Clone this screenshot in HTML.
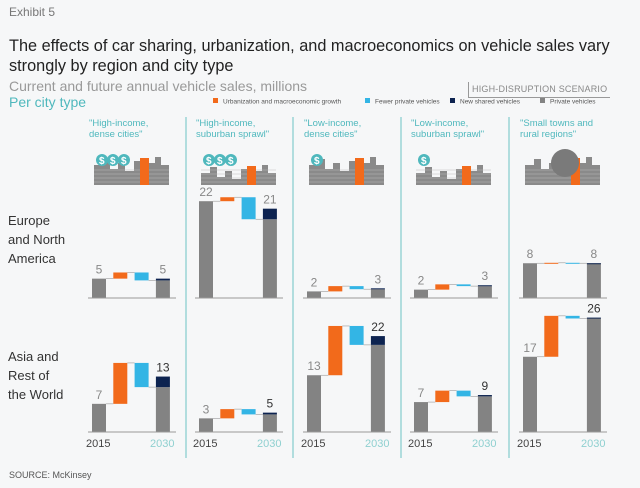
<!DOCTYPE html>
<html><head><meta charset="utf-8"><style>
body{margin:0;width:640px;height:488px;background:#f6f7f8;font-family:"Liberation Sans",sans-serif;overflow:hidden;position:relative}
.t{position:absolute;white-space:nowrap}
</style></head><body>
<div class="t" style="left:9px;top:5px;font-size:12px;color:#777">Exhibit 5</div>
<div class="t" style="left:9px;top:36px;font-size:16.3px;color:#222;line-height:20px">The effects of car sharing, urbanization, and macroeconomics on vehicle sales vary<br>strongly by region and city type</div>
<div class="t" style="left:9px;top:78px;font-size:14px;color:#999">Current and future annual vehicle sales, millions</div>
<div class="t" style="left:9px;top:94px;font-size:14px;color:#4fb8bd">Per city type</div>
<div class="t" style="left:468px;top:82px;font-size:9px;color:#888;border-left:1px solid #999;border-bottom:1px solid #999;padding:2px 3px 3px 3px;letter-spacing:0.2px">HIGH-DISRUPTION SCENARIO</div>
<div class="t" style="left:8px;top:211px;font-size:13px;line-height:19px;color:#333">Europe<br>and North<br>America</div>
<div class="t" style="left:8px;top:347px;font-size:13px;line-height:19px;color:#333">Asia and<br>Rest of<br>the World</div>
<div class="t" style="left:9px;top:470px;font-size:9px;color:#555">SOURCE: McKinsey</div>
<svg id="c" width="640" height="488" style="position:absolute;left:0;top:0"></svg>
<script>
const cityTypes=['"High-income,|dense cities"','"High-income,|suburban sprawl"','"Low-income,|dense cities"','"Low-income,|suburban sprawl"','"Small towns and|rural regions"'];
const euStart=[4.4,22,1.5,1.9,7.9];
const euUrban=[1.4,0.9,1.2,1.2,0.1];
const euFewer=[1.8,5,0.7,0.4,0.1];
const euShared=[0.4,2.4,0.2,0.2,0];
const euStartLabel=[5,22,2,2,8];
const euEndLabel=[5,21,3,3,8];
const asStart=[6.4,3.1,12.9,6.8,17.1];
const asUrban=[9.3,2.1,11.2,2.6,9.3];
const asFewer=[5.5,1.2,4.3,1.3,0.6];
const asShared=[2.4,0.4,2.0,0.3,0.2];
const asStartLabel=[7,3,13,7,17];
const asEndLabel=[13,5,22,9,26];
const legendItems=['Urbanization and macroeconomic growth','Fewer private vehicles','New shared vehicles','Private vehicles'];

const C={o:'#f26a1b',b:'#33b5e5',n:'#0d2350',g:'#838383',teal:'#4fb8bd'};
const svg=document.getElementById('c');const NS='http://www.w3.org/2000/svg';
function mk(tag,a,parent){const e=document.createElementNS(NS,tag);for(const k in a)e.setAttribute(k,a[k]);(parent||svg).appendChild(e);return e;}
const panelX=[92,199,307,414,523];const step=21.3,bw=14,k=4.4;
const yE=v=>298-v*k, yA=v=>432-v*k;
[186,293,401,509].forEach(x=>{const l=mk('line',{x1:x,y1:117,x2:x,y2:458,stroke:'#6cc3c3','stroke-width':1});

});
const lgX=[213,365,450,540],lgC=[C.o,C.b,C.n,C.g];
legendItems.forEach((s,i)=>{const g=mk('g',{});


mk('rect',{x:lgX[i],y:98,width:5,height:5,fill:lgC[i]},g);
const t=mk('text',{x:lgX[i]+10,y:103.5,'font-size':6.5,fill:'#555'},g);t.textContent=s;});
cityTypes.forEach((s,i)=>{const x=panelX[i]-3;const p=s.split('|');
p.forEach((ln,j)=>{const t=mk('text',{x:x,y:126+j*11,'font-size':9.5,fill:C.teal});t.textContent=ln;

});
const g=mk('g',{});


const bx=panelX[i]+2;const low=(i==1||i==3)?8:0;
const hs=[[0,20,9],[9,26,7],[16,16,8],[24,22,7],[31,14,9],[40,24,7],[47,18,8],[55,22,6],[61,28,6],[67,20,8]];
hs.forEach(h=>mk('rect',{x:bx+h[0],y:185-h[1]+low,width:h[2],height:h[1]-low,fill:'#8a8a8a'},g));
for(let r=0;r<4;r++)mk('line',{x1:bx,x2:bx+75,y1:170+r*4,y2:170+r*4,stroke:'#bbb','stroke-width':0.6},g);
mk('rect',{x:bx+46,y:158+low,width:9,height:27-low,fill:C.o},g);
const nb=(i<2)?3:(i<4?1:0);
for(let b=0;b<nb;b++){mk('circle',{cx:bx+8+b*11,cy:160,r:6,fill:C.teal},g);const t=mk('text',{x:bx+5+b*11,y:164,'font-size':10,'font-weight':'bold',fill:'#fff'},g);t.textContent='$';}
if(i==4){mk('circle',{cx:bx+40,cy:163,r:14,fill:'#7a7a7a'},g);}
});
function panel(i,y0,yf,st,ur,fw,sh,sl,el,rowName,dark){
const x0=panelX[i];const g=mk('g',{});


const a=st[i],b=a+ur[i],c=b-fw[i],d=c+sh[i];
const R=(x,v1,v2,f,n)=>{const r=mk('rect',{x:x,y:Math.min(yf(v1),yf(v2)),width:bw,height:Math.max(1,Math.abs(yf(v1)-yf(v2))),fill:f},g);

};
R(x0,0,a,C.g,'bar-2015');
R(x0+step,a,b,C.o,'bar-urbanization');
R(x0+2*step,b,c,C.b,'bar-fewer-private');
R(x0+3*step,0,c,C.g,'bar-2030-private');
R(x0+3*step,c,d,C.n,'bar-new-shared');
[[x0+bw,a,x0+step],[x0+step+bw,b,x0+2*step],[x0+2*step+bw,c,x0+3*step]].forEach(q=>mk('line',{x1:q[0],x2:q[2],y1:yf(q[1]),y2:yf(q[1]),stroke:'#999','stroke-width':0.6},g));
mk('line',{x1:x0-4,x2:x0+84,y1:y0,y2:y0,stroke:'#999','stroke-width':1},g);
let t=mk('text',{x:x0+7,y:yf(a)-5,'font-size':12,fill:'#888','text-anchor':'middle'},g);t.textContent=sl[i];
t=mk('text',{x:x0+3*step+7,y:yf(d)-5,'font-size':12,fill:dark?'#333':'#888','text-anchor':'middle'},g);t.textContent=el[i];
}
for(let i=0;i<5;i++){panel(i,298,yE,euStart,euUrban,euFewer,euShared,euStartLabel,euEndLabel,'europe',false);
panel(i,432,yA,asStart,asUrban,asFewer,asShared,asStartLabel,asEndLabel,'asia',true);
let t=mk('text',{x:panelX[i]-6,y:447,'font-size':11,fill:'#444'});t.textContent='2015';


t=mk('text',{x:panelX[i]+58,y:447,'font-size':11,fill:'#8fd0d0'});t.textContent='2030';

}
</script>
</body></html>
